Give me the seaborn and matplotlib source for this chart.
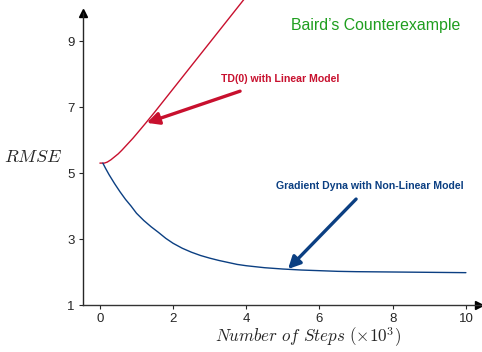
import matplotlib
matplotlib.use("Agg")
import matplotlib.pyplot as plt
import seaborn as sns
import pandas as pd

# Data
td_x = [0.0, 0.12, 0.2, 0.3, 0.4, 0.5, 0.6, 0.7, 0.8, 0.9, 1.0, 1.25, 1.5, 2.0, 2.5, 3.0, 3.5, 4.0]
td_y = [5.3, 5.3, 5.33, 5.4, 5.49, 5.58, 5.69, 5.81, 5.93, 6.05, 6.18, 6.51, 6.85, 7.55, 8.25, 8.95, 9.65, 10.35]
gd_x = [0.08, 0.15, 0.25, 0.4, 0.55, 0.7, 0.85, 1.0, 1.2, 1.4, 1.6, 1.8, 2.0, 2.25, 2.5, 2.75,
        3.0, 3.25, 3.5, 3.75, 4.0, 4.5, 5.0, 5.5, 6.0, 6.5, 7.0, 8.0, 9.0, 10.0]
gd_y = [5.3, 5.15, 4.95, 4.68, 4.43, 4.2, 4.0, 3.78, 3.56, 3.37, 3.2, 3.02, 2.87, 2.72, 2.6, 2.5,
        2.42, 2.35, 2.29, 2.23, 2.19, 2.13, 2.09, 2.06, 2.04, 2.02, 2.01, 2.0, 1.99, 1.98]
x_ticks = [0, 2, 4, 6, 8, 10]
y_ticks = [1, 3, 5, 7, 9]

RED = "#c8102e"
BLUE = "#0b3f82"
GREEN = "#1f9e1f"

sns.set_style("ticks")
plt.rcParams["font.family"] = ["Liberation Sans", "DejaVu Sans"]
plt.rcParams["mathtext.fontset"] = "cm"

fig = plt.figure(figsize=(4.82, 3.52), dpi=100)
ax = fig.add_axes([82.7 / 482, 47 / 352, (482 - 82.7) / 482, 305 / 352])

td = pd.DataFrame({"x": td_x, "y": td_y})
gd = pd.DataFrame({"x": gd_x, "y": gd_y})
sns.lineplot(data=td, x="x", y="y", ax=ax, color=RED, lw=1.0, sort=False)
sns.lineplot(data=gd, x="x", y="y", ax=ax, color=BLUE, lw=1.0, sort=False)

xmin, xmax = -0.47, 10.44
ymin, ymax = 1.0, 1 + 305 / 33
ax.set_xlim(xmin, xmax)
ax.set_ylim(ymin, ymax)

ax.set_xticks(x_ticks)
ax.set_yticks(y_ticks)
ax.tick_params(labelsize=9.5, length=3, width=0.8, direction="out", pad=3)

for s in ["top", "right"]:
    ax.spines[s].set_visible(False)
ax.spines["left"].set_bounds(1, 9.85)
ax.spines["left"].set_linewidth(1.0)
ax.spines["bottom"].set_linewidth(1.0)
ax.spines["bottom"].set_color("#333333")
ax.plot([xmin], [9.85], marker="^", color="k", markersize=6, clip_on=False)
ax.plot([10.35], [1], marker=">", color="k", markersize=6, clip_on=False)

ax.set_xlabel(r"$Number\ of\ Steps\ (\times 10^3)$", fontsize=12.3)
ax.xaxis.set_label_coords((308 - 82.7) / 399.3, (352 - 337 - 47) / 305)
ax.xaxis.label.set_va("center")
ax.set_ylabel(r"$RMSE$", fontsize=13, rotation=0)
ax.yaxis.set_label_coords((33 - 82.7) / 399.3, (352 - 158 - 47) / 305)
ax.yaxis.label.set_va("center")
ax.yaxis.label.set_ha("center")

ax.text(7.54, 9.48, "Baird\u2019s Counterexample", color=GREEN, fontsize=11.4,
        ha="center", va="center")
ax.text(4.92, 7.85, "TD(0) with Linear Model", color=RED, fontsize=7.6,
        fontweight="bold", ha="center", va="center")
ax.text(7.38, 4.6, "Gradient Dyna with Non-Linear Model", color=BLUE, fontsize=7.6,
        fontweight="bold", ha="center", va="center")

ax.annotate("", xy=(1.28, 6.52), xytext=(3.83, 7.48),
            arrowprops=dict(arrowstyle="-|>", color=RED, lw=2.4, mutation_scale=18,
                            shrinkA=0, shrinkB=0))
ax.annotate("", xy=(5.14, 2.09), xytext=(7.0, 4.21),
            arrowprops=dict(arrowstyle="-|>", color=BLUE, lw=2.4, mutation_scale=18,
                            shrinkA=0, shrinkB=0))

fig.savefig("out.png", dpi=100)
